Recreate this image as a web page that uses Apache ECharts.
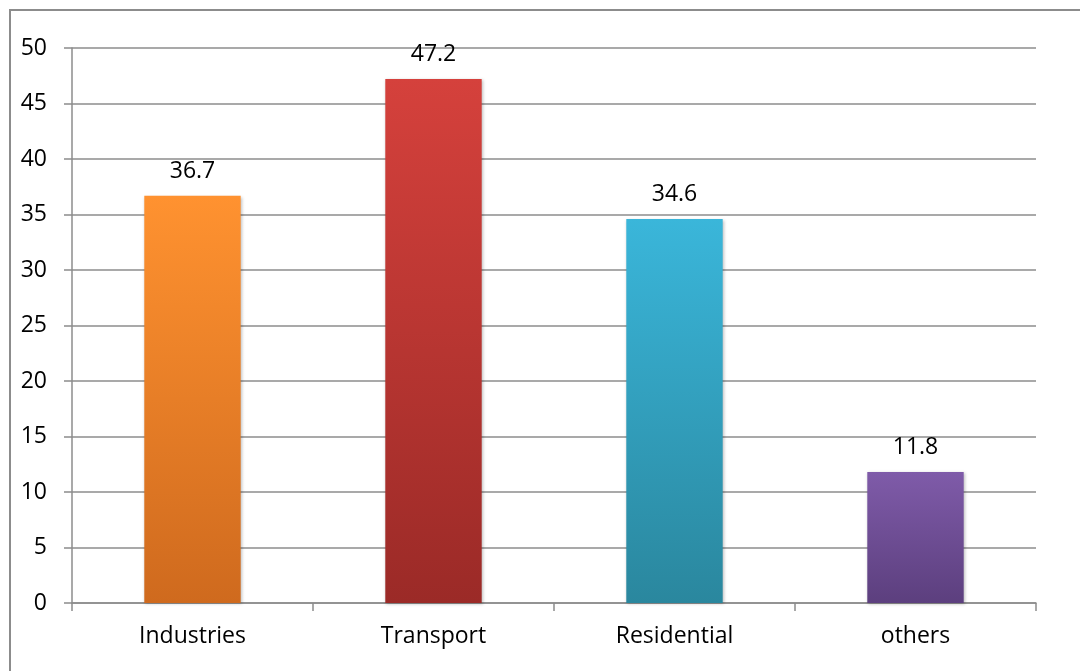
<!DOCTYPE html>
<html>
<head>
<meta charset="utf-8">
<script src="https://cdn.jsdelivr.net/npm/echarts@6/dist/echarts.min.js"></script>
<style>
  html, body { margin: 0; padding: 0; background: #fff; }
  #chart { width: 1080px; height: 671px; }
</style>
</head>
<body>
<div id="chart"></div>
<script>
const categories = ['Industries', 'Transport', 'Residential', 'others'];
const values = [36.7, 47.2, 34.6, 11.8];
// top / bottom colour of each bar's vertical gradient
const topColors = ['#FF9230', '#D5413C', '#3AB6DA', '#7F5BA9'];
const bottomColors = ['#CF6A1E', '#9B2A27', '#2A879E', '#5C3F7E'];

const chart = echarts.init(document.getElementById('chart'), null, { renderer: 'canvas' });
const font = '"Open Sans", "Noto Sans", sans-serif';

chart.setOption({
  animation: false,
  backgroundColor: '#fff',
  graphic: [{
    type: 'rect',
    shape: { x: 10, y: 10, width: 1100, height: 700 },
    style: { fill: 'none', stroke: '#8c8c8c', lineWidth: 2 },
    silent: true
  }],
  grid: { left: 72, right: 44, top: 48, bottom: 68, containLabel: false },
  xAxis: {
    type: 'category',
    data: categories,
    axisLine: { lineStyle: { color: '#8c8c8c', width: 1.5 } },
    axisTick: { show: true, length: 8, alignWithLabel: false, lineStyle: { color: '#8c8c8c', width: 1.5 } },
    axisLabel: { color: '#000', fontSize: 23, fontFamily: font, margin: 22 }
  },
  yAxis: {
    type: 'value',
    min: 0, max: 50, interval: 5,
    axisLine: { show: true, lineStyle: { color: '#8c8c8c', width: 1.5 } },
    axisTick: { show: true, length: 8, lineStyle: { color: '#8c8c8c', width: 1.5 } },
    splitLine: { show: true, lineStyle: { color: '#8c8c8c', width: 1.5 } },
    axisLabel: { color: '#000', fontSize: 23, fontFamily: font, margin: 25 }
  },
  series: [{
    type: 'bar',
    barWidth: '40%',
    data: values.map((v, i) => ({
      value: v,
      itemStyle: {
        color: new echarts.graphic.LinearGradient(0, 0, 0, 1, [
          { offset: 0, color: topColors[i] },
          { offset: 1, color: bottomColors[i] }
        ]),
        shadowColor: 'rgba(0,0,0,0.25)',
        shadowBlur: 3,
        shadowOffsetX: 1,
        shadowOffsetY: 1
      }
    })),
    label: {
      show: true,
      position: 'top',
      distance: 13,
      color: '#000',
      fontSize: 23,
      fontFamily: font
    }
  }]
});
</script>
</body>
</html>
